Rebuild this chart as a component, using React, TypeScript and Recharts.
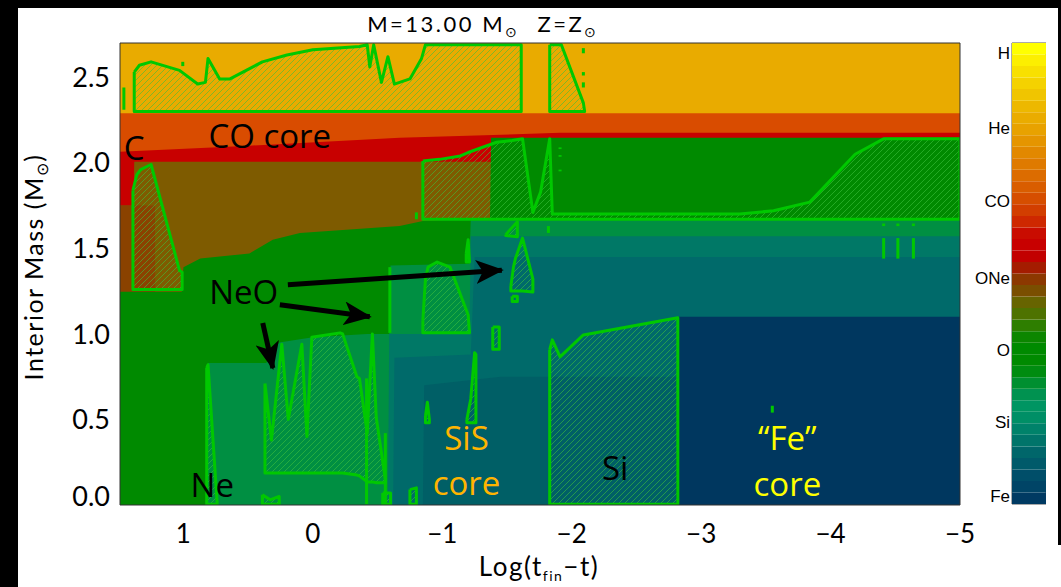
import React from 'react';
import {
  ComposedChart,
  Area,
  Line,
  XAxis,
  YAxis,
  ReferenceLine,
  ReferenceDot,
  BarChart,
  Bar,
  ReferenceArea,
} from 'recharts';

type Pt = { x: number; y: number };
type Span = { x: number; r: [number, number] };
type Mark = { x: number; y0: number; y1: number };

const X_DOMAIN: [number, number] = [-5, 1.49];
const Y_DOMAIN: [number, number] = [0, 2.7];

// upper edge of every abundance region, painted from the surface inwards
const hEnvelopeTop: Pt[] = [{ x: 1.49, y: 2.7 }, { x: -5, y: 2.7 }];
const heShellTop: Pt[] = [{ x: 1.49, y: 2.29 }, { x: -5, y: 2.29 }];
const coCoreTop: Pt[] = [
  { x: 1.49, y: 2.064 }, { x: 0.49, y: 2.1 }, { x: -0.67, y: 2.146 },
  { x: -1.91, y: 2.175 }, { x: -5, y: 2.175 },
];
const cBurnTop: Pt[] = [
  { x: 1.49, y: 1.75 }, { x: 1.385, y: 1.75 }, { x: 1.38, y: 2.006 }, { x: -5, y: 2.006 },
];
const cAshTop: Pt[] = [
  { x: 1.49, y: 1.75 }, { x: 1.22, y: 1.75 }, { x: 1.215, y: 0 }, { x: -5, y: 0 },
];
const oNeTop: Pt[] = [
  { x: 1.49, y: 1.246 }, { x: 1.013, y: 1.246 }, { x: 1.0, y: 1.39 }, { x: 0.87, y: 1.44 },
  { x: 0.49, y: 1.47 }, { x: 0.31, y: 1.55 }, { x: 0.1, y: 1.59 }, { x: -0.67, y: 1.63 },
  { x: -0.85, y: 1.66 }, { x: -1.369, y: 1.678 }, { x: -1.377, y: 2.146 }, { x: -5, y: 2.146 },
];
const oTop: Pt[] = [
  { x: 1.49, y: 0 }, { x: 0.815, y: 0 }, { x: 0.81, y: 0.83 }, { x: 0.36, y: 0.83 },
  { x: 0.26, y: 0.95 }, { x: 0, y: 0.98 }, { x: -0.42, y: 1.0 }, { x: -0.59, y: 1.0 },
  { x: -0.6, y: 1.4 }, { x: -1.21, y: 1.41 }, { x: -1.22, y: 1.67 }, { x: -5, y: 1.67 },
];
const oSiTop: Pt[] = [
  { x: 1.49, y: 0 }, { x: -0.58, y: 0 }, { x: -0.59, y: 1.0 }, { x: -1.21, y: 1.0 },
  { x: -1.22, y: 1.57 }, { x: -5, y: 1.57 },
];
const siTop: Pt[] = [
  { x: 1.49, y: 0 }, { x: -0.62, y: 0 }, { x: -0.63, y: 0.86 }, { x: -1.22, y: 0.88 },
  { x: -1.25, y: 1.45 }, { x: -5, y: 1.45 },
];
const siSTop: Pt[] = [
  { x: 1.49, y: 0 }, { x: -0.85, y: 0 }, { x: -0.86, y: 0.7 }, { x: -1.45, y: 0.75 }, { x: -5, y: 0.75 },
];
const feTop: Pt[] = [
  { x: 1.49, y: 0 }, { x: -2.81, y: 0 }, { x: -2.82, y: 1.1 }, { x: -5, y: 1.1 },
];

const layers = [
  { name: 'H', color: '#E9AB00', top: hEnvelopeTop },
  { name: 'He', color: '#D94C00', top: heShellTop },
  { name: 'CO', color: '#C80000', top: coCoreTop },
  { name: 'C', color: '#7E5B00', top: cBurnTop },
  { name: 'Cash', color: '#8A4200', top: cAshTop },
  { name: 'ONe', color: '#008A00', top: oNeTop },
  { name: 'O', color: '#008F42', top: oTop },
  { name: 'OSi', color: '#007866', top: oSiTop },
  { name: 'Si', color: '#006A6A', top: siTop },
  { name: 'SiS', color: '#005F66', top: siSTop },
  { name: 'Fe', color: '#00375F', top: feTop },
];

// convective regions: [bottom, top] of the mixed zone at each time
const envelopeZone: Span[] = [
  { x: 1.38, r: [2.3, 2.53] }, { x: 1.34, r: [2.3, 2.57] }, { x: 1.25, r: [2.3, 2.59] },
  { x: 1.03, r: [2.3, 2.54] }, { x: 0.89, r: [2.3, 2.46] }, { x: 0.83, r: [2.3, 2.47] },
  { x: 0.81, r: [2.3, 2.61] }, { x: 0.72, r: [2.3, 2.49] }, { x: 0.64, r: [2.3, 2.49] },
  { x: 0.39, r: [2.3, 2.59] }, { x: 0.2, r: [2.3, 2.63] }, { x: 0, r: [2.3, 2.66] },
  { x: -0.36, r: [2.3, 2.68] }, { x: -0.42, r: [2.3, 2.69] }, { x: -0.44, r: [2.3, 2.56] },
  { x: -0.47, r: [2.3, 2.69] }, { x: -0.53, r: [2.3, 2.47] }, { x: -0.58, r: [2.3, 2.62] },
  { x: -0.63, r: [2.3, 2.46] }, { x: -0.75, r: [2.3, 2.49] }, { x: -0.84, r: [2.3, 2.61] },
  { x: -0.87, r: [2.3, 2.69] }, { x: -1.61, r: [2.3, 2.69] },
];
const envelopeZone2: Span[] = [
  { x: -1.83, r: [2.3, 2.69] }, { x: -1.92, r: [2.3, 2.69] }, { x: -2.09, r: [2.3, 2.35] },
  { x: -2.1, r: [2.3, 2.3] },
];
const carbonZone: Span[] = [
  { x: 1.39, r: [1.26, 1.84] }, { x: 1.36, r: [1.26, 1.93] }, { x: 1.33, r: [1.26, 1.96] },
  { x: 1.25, r: [1.26, 1.99] }, { x: 1.03, r: [1.26, 1.37] }, { x: 1.01, r: [1.26, 1.36] },
];
const shellZone: Span[] = [
  { x: -0.85, r: [1.67, 2.01] }, { x: -0.98, r: [1.67, 2.02] }, { x: -1.14, r: [1.67, 2.04] },
  { x: -1.2, r: [1.67, 2.06] }, { x: -1.42, r: [1.67, 2.12] }, { x: -1.54, r: [1.67, 2.13] },
  { x: -1.62, r: [1.67, 2.14] }, { x: -1.7, r: [1.67, 1.71] }, { x: -1.76, r: [1.67, 1.83] },
  { x: -1.83, r: [1.67, 2.14] }, { x: -1.85, r: [1.67, 1.7] }, { x: -3.3, r: [1.67, 1.7] },
  { x: -3.56, r: [1.67, 1.72] }, { x: -3.84, r: [1.67, 1.77] }, { x: -4.19, r: [1.67, 2.05] },
  { x: -4.41, r: [1.67, 2.14] }, { x: -5, r: [1.67, 2.14] },
];
const neShellA: Span[] = [{ x: -1.49, r: [1.575, 1.58] }, { x: -1.58, r: [1.567, 1.655] }];
const neShellB: Span[] = [
  { x: -1.53, r: [1.25, 1.28] }, { x: -1.55, r: [1.25, 1.39] }, { x: -1.565, r: [1.25, 1.44] },
  { x: -1.62, r: [1.25, 1.56] }, { x: -1.7, r: [1.245, 1.32] },
];
const neShellC: Span[] = [{ x: -1.54, r: [1.19, 1.22] }, { x: -1.58, r: [1.19, 1.22] }];
const neoShell: Span[] = [
  { x: -0.85, r: [1.006, 1.08] }, { x: -0.87, r: [1.006, 1.32] }, { x: -0.89, r: [1.006, 1.39] },
  { x: -0.96, r: [1.006, 1.42] }, { x: -1.06, r: [1.006, 1.39] }, { x: -1.2, r: [1.006, 1.11] },
  { x: -1.21, r: [1.006, 1.01] },
];
const neoCore: Span[] = [
  { x: 0.37, r: [0.187, 0.71] }, { x: 0.32, r: [0.187, 0.38] }, { x: 0.24, r: [0.187, 0.94] },
  { x: 0.19, r: [0.187, 0.5] }, { x: 0.085, r: [0.187, 0.94] }, { x: 0.046, r: [0.187, 0.4] },
  { x: 0.008, r: [0.187, 0.98] }, { x: -0.21, r: [0.187, 1.006] }, { x: -0.23, r: [0.187, 1.0] },
  { x: -0.34, r: [0.175, 0.75] }, { x: -0.36, r: [0.17, 0.74] }, { x: -0.42, r: [0.135, 0.42] },
  { x: -0.46, r: [0.135, 1.0] }, { x: -0.49, r: [0.13, 0.51] }, { x: -0.56, r: [0.13, 0.15] },
];
const neCore: Span[] = [
  { x: 0.82, r: [0.005, 0.8] }, { x: 0.81, r: [0.005, 0.82] }, { x: 0.74, r: [0.005, 0.02] },
];
const siSShellA: Span[] = [
  { x: -1.19, r: [0.48, 0.5] }, { x: -1.22, r: [0.48, 0.62] }, { x: -1.25, r: [0.48, 0.89] },
  { x: -1.26, r: [0.48, 0.88] },
];
const siSShellB: Span[] = [
  { x: -0.87, r: [0.48, 0.52] }, { x: -0.885, r: [0.48, 0.6] }, { x: -0.9, r: [0.48, 0.5] },
];
const siSShellC: Span[] = [{ x: -1.39, r: [0.91, 1.04] }, { x: -1.44, r: [0.91, 1.04] }];
const siSShellD: Span[] = [
  { x: -1.185, r: [1.42, 1.47] }, { x: -1.2, r: [1.42, 1.55] }, { x: -1.21, r: [1.42, 1.42] },
];
const coreBlipA: Span[] = [{ x: -0.54, r: [0.005, 0.07] }, { x: -0.6, r: [0.005, 0.07] }];
const coreBlipB: Span[] = [{ x: -0.75, r: [0.005, 0.09] }, { x: -0.8, r: [0.005, 0.1] }];
const coreBlipC: Span[] = [
  { x: 0.39, r: [0.005, 0.06] }, { x: 0.33, r: [0.005, 0.03] }, { x: 0.26, r: [0.005, 0.05] },
];
const siCore: Span[] = [
  { x: -1.83, r: [0.005, 0.906] }, { x: -1.85, r: [0.005, 0.965] }, { x: -1.91, r: [0.005, 0.866] },
  { x: -2.09, r: [0.005, 0.994] }, { x: -2.82, r: [0.005, 1.094] },
];

const convectiveZones: Span[][] = [
  envelopeZone, envelopeZone2, carbonZone, shellZone, neShellA, neShellB, neShellC, neoShell,
  neoCore, neCore, siSShellA, siSShellB, siSShellC, siSShellD, coreBlipA, coreBlipB, coreBlipC,
  siCore,
];

// short-lived mixing episodes drawn as single strokes
const mixingMarks: Mark[] = [
  { x: 1.46, y0: 2.31, y1: 2.44 }, { x: 1.005, y0: 2.565, y1: 2.59 },
  { x: -2.09, y0: 2.64, y1: 2.67 }, { x: -2.09, y0: 2.51, y1: 2.53 }, { x: -2.09, y0: 2.44, y1: 2.47 },
  { x: -1.91, y0: 2.08, y1: 2.09 }, { x: -1.91, y0: 2.035, y1: 2.045 }, { x: -1.91, y0: 1.95, y1: 1.96 },
  { x: -0.8, y0: 1.67, y1: 1.71 }, { x: -1.82, y0: 1.59, y1: 1.63 },
  { x: -4.41, y0: 1.44, y1: 1.56 }, { x: -4.52, y0: 1.44, y1: 1.56 }, { x: -4.64, y0: 1.44, y1: 1.56 },
  { x: -4.41, y0: 1.63, y1: 1.645 }, { x: -4.52, y0: 1.63, y1: 1.645 }, { x: -4.64, y0: 1.63, y1: 1.645 },
  { x: -3.55, y0: 0.54, y1: 0.58 }, { x: -0.415, y0: 0.005, y1: 0.74 },
  { x: -0.56, y0: 0.005, y1: 0.42 }, { x: -0.595, y0: 1.006, y1: 1.39 },
];

const arrows = [
  { from: { x: 0.193, y: 1.287 }, to: { x: -1.46, y: 1.372 } },
  { from: { x: 0.255, y: 1.17 }, to: { x: -0.44, y: 1.1 } },
  { from: { x: 0.387, y: 1.064 }, to: { x: 0.309, y: 0.8 } },
];

const notes = [
  { text: 'CO core', x: 0.333, y: 2.153, color: '#000' },
  { text: 'C', x: 1.38, y: 2.086, color: '#000' },
  { text: 'NeO', x: 0.534, y: 1.245, color: '#000' },
  { text: 'Ne', x: 0.777, y: 0.117, color: '#000' },
  { text: 'SiS', x: -1.187, y: 0.392, color: '#FFB400' },
  { text: 'core', x: -1.187, y: 0.129, color: '#FFB400' },
  { text: 'Si', x: -2.336, y: 0.216, color: '#000' },
  { text: '\u201CFe\u201D', x: -3.666, y: 0.39, color: '#FFFF00' },
  { text: 'core', x: -3.666, y: 0.12, color: '#FFFF00' },
];

const xLabelTicks = [1, 0, -1, -2, -3, -4, -5];
const yLabelTicks = [0, 0.5, 1, 1.5, 2, 2.5];
const xMinorTicks = Array.from({ length: 65 }, (_, i) => Math.round((-5 + i * 0.1) * 10) / 10);
const yMinorTicks = Array.from({ length: 28 }, (_, i) => Math.round(i) / 10);

// colour table of the abundance scale, from the top (H) down to Fe
const scaleColors = [
  '#FFFF00', '#FCEF00', '#F8E000', '#F4D200', '#F0C500', '#EDB800', '#EAAC00', '#E8A200',
  '#E59500', '#E28800', '#DF7A00', '#DC6C00', '#D95D00', '#D64E00', '#D23E00', '#CE2800',
  '#C90C00', '#C80000', '#C20000', '#A41C00', '#8C3800', '#7A4E00', '#676400', '#4E7200',
  '#2E7E00', '#0C8600', '#008A00', '#008A00', '#008C10', '#008F30', '#009250', '#009562',
  '#008F66', '#00826A', '#00746A', '#00666A', '#005A6A', '#004E69', '#004466', '#003A62',
];
const scaleNames = ['Fe', 'Si', 'O', 'ONe', 'CO', 'He', 'H'];
const scaleLevels = [0.69, 7.11, 13.36, 19.61, 26.29, 32.62, 39.13];

const ZONE_GREEN = '#00C800';
const AXIS_COLOR = '#333';
const FONT = 'Lato, sans-serif';

const zoneOutline = (z: Span[]): Pt[] => [
  ...z.map((d) => ({ x: d.x, y: d.r[1] })),
  ...z.slice().reverse().map((d) => ({ x: d.x, y: d.r[0] })),
  { x: z[0].x, y: z[0].r[1] },
];

const fmtX = (v: number) => (v < 0 ? `\u2212${-v}` : `${v}`);

const MassTick = ({ x, y, payload }: any) => (
  <text
    x={x}
    y={payload.value === 0 ? y - 9 : y}
    dy="0.36em"
    textAnchor="end"
    fontSize={27}
    fontFamily={FONT}
    fill="#000"
  >
    {Number(payload.value).toFixed(1)}
  </text>
);

const ColorScale = () => {
  const row: Record<string, number> = { name: 0 } as any;
  const bottomUp = scaleColors.slice().reverse();
  bottomUp.forEach((_, i) => (row[`b${i}`] = 1));
  return (
    <BarChart
      width={86}
      height={481}
      data={[row]}
      margin={{ top: 10, right: 0, bottom: 10, left: 0 }}
      barCategoryGap={0}
      barGap={0}
    >
      <XAxis dataKey="name" hide />
      <YAxis
        type="number"
        domain={[0, 40]}
        ticks={scaleLevels}
        tickFormatter={(v: number) => scaleNames[scaleLevels.indexOf(v)] ?? ''}
        width={52}
        tickLine={false}
        axisLine={false}
        tickSize={0}
        tickMargin={2}
        interval={0}
        tick={{ fontSize: 17, fill: '#000', fontFamily: 'Liberation Sans, Arial, sans-serif' }}
      />
      {bottomUp.map((c, i) => (
        <Bar key={c + i} dataKey={`b${i}`} stackId="s" fill={c} isAnimationActive={false} />
      ))}
      <ReferenceArea y1={0} y2={40} fill="none" stroke="#555" strokeWidth={1} ifOverflow="visible" />
    </BarChart>
  );
};

export default function App() {
  return (
    <div
      style={{
        position: 'fixed',
        left: 0,
        top: 0,
        width: 1061,
        height: 587,
        background: '#fff',
        overflow: 'hidden',
      }}
    >
      <div style={{ position: 'absolute', left: 0, top: 0 }}>
        <ComposedChart width={1061} height={587} margin={{ top: 43, right: 101, bottom: 42, left: 60 }}>
          <defs>
            <pattern id="hatch" patternUnits="userSpaceOnUse" width={6} height={6}>
              <path
                d="M-1,1 L1,-1 M0,6 L6,0 M5,7 L7,5"
                stroke="#3CC03C"
                strokeWidth={0.8}
                strokeOpacity={0.75}
              />
            </pattern>
            <marker
              id="arrowHead"
              markerUnits="userSpaceOnUse"
              markerWidth={28}
              markerHeight={24}
              refX={26}
              refY={12}
              orient="auto"
            >
              <path d="M0,0 L28,12 L0,24 L7,12 Z" fill="#000" />
            </marker>
          </defs>

          {layers.map((l) => (
            <Area
              key={l.name}
              data={l.top}
              dataKey="y"
              type="linear"
              fill={l.color}
              fillOpacity={1}
              stroke="none"
              isAnimationActive={false}
            />
          ))}

          {convectiveZones.map((z, i) => (
            <Area
              key={`zone${i}`}
              data={z}
              dataKey="r"
              type="linear"
              fill="url(#hatch)"
              fillOpacity={1}
              stroke="none"
              isAnimationActive={false}
            />
          ))}

          {convectiveZones.map((z, i) => (
            <Line
              key={`edge${i}`}
              data={zoneOutline(z)}
              dataKey="y"
              type="linear"
              stroke={ZONE_GREEN}
              strokeWidth={3}
              strokeLinejoin="round"
              dot={false}
              activeDot={false}
              isAnimationActive={false}
            />
          ))}

          {mixingMarks.map((m, i) => (
            <Line
              key={`mark${i}`}
              data={[{ x: m.x, y: m.y0 }, { x: m.x, y: m.y1 }]}
              dataKey="y"
              type="linear"
              stroke={ZONE_GREEN}
              strokeWidth={3}
              dot={false}
              activeDot={false}
              isAnimationActive={false}
            />
          ))}

          {arrows.map((a, i) => (
            <ReferenceLine
              key={`arrow${i}`}
              segment={[a.from, a.to]}
              stroke="#000"
              strokeWidth={5}
              markerEnd="url(#arrowHead)"
              ifOverflow="visible"
            />
          ))}

          {notes.map((n, i) => (
            <ReferenceDot
              key={`note${i}`}
              x={n.x}
              y={n.y}
              r={0}
              fill="none"
              stroke="none"
              ifOverflow="visible"
              label={{
                value: n.text,
                position: 'center',
                fill: n.color,
                fontSize: 33,
                fontFamily: 'Open Sans, sans-serif',
              }}
            />
          ))}

          <XAxis
            dataKey="x"
            type="number"
            domain={X_DOMAIN}
            allowDataOverflow
            reversed
            ticks={xLabelTicks}
            tickFormatter={fmtX}
            height={40}
            tickLine={false}
            tickSize={0}
            tickMargin={20}
            axisLine={{ stroke: AXIS_COLOR }}
            tick={{ fontSize: 26, fill: '#000', fontFamily: FONT }}
            interval={0}
          />
          <XAxis xAxisId="bMaj" dataKey="x" type="number" domain={X_DOMAIN} allowDataOverflow reversed
            ticks={xLabelTicks} mirror height={1} tickSize={9} tick={false} axisLine={false}
            tickLine={{ stroke: AXIS_COLOR }} interval={0} />
          <XAxis xAxisId="bMin" dataKey="x" type="number" domain={X_DOMAIN} allowDataOverflow reversed
            ticks={xMinorTicks} mirror height={1} tickSize={4.5} tick={false} axisLine={false}
            tickLine={{ stroke: AXIS_COLOR }} interval={0} />
          <XAxis xAxisId="tMaj" orientation="top" dataKey="x" type="number" domain={X_DOMAIN}
            allowDataOverflow reversed ticks={xLabelTicks} mirror height={1} tickSize={9} tick={false}
            axisLine={{ stroke: AXIS_COLOR }} tickLine={{ stroke: AXIS_COLOR }} interval={0} />
          <XAxis xAxisId="tMin" orientation="top" dataKey="x" type="number" domain={X_DOMAIN}
            allowDataOverflow reversed ticks={xMinorTicks} mirror height={1} tickSize={4.5} tick={false}
            axisLine={false} tickLine={{ stroke: AXIS_COLOR }} interval={0} />

          <YAxis
            type="number"
            domain={Y_DOMAIN}
            allowDataOverflow
            ticks={yLabelTicks}
            width={60}
            tickLine={false}
            tickSize={0}
            tickMargin={10}
            axisLine={{ stroke: AXIS_COLOR }}
            tick={<MassTick />}
            interval={0}
          />
          <YAxis yAxisId="lMaj" type="number" domain={Y_DOMAIN} allowDataOverflow ticks={yLabelTicks}
            mirror width={1} tickSize={17} tick={false} axisLine={false}
            tickLine={{ stroke: AXIS_COLOR }} interval={0} />
          <YAxis yAxisId="lMin" type="number" domain={Y_DOMAIN} allowDataOverflow ticks={yMinorTicks}
            mirror width={1} tickSize={8} tick={false} axisLine={false}
            tickLine={{ stroke: AXIS_COLOR }} interval={0} />
          <YAxis yAxisId="rMaj" orientation="right" type="number" domain={Y_DOMAIN} allowDataOverflow
            ticks={yLabelTicks} mirror width={1} tickSize={17} tick={false}
            axisLine={{ stroke: AXIS_COLOR }} tickLine={{ stroke: AXIS_COLOR }} interval={0} />
          <YAxis yAxisId="rMin" orientation="right" type="number" domain={Y_DOMAIN} allowDataOverflow
            ticks={yMinorTicks} mirror width={1} tickSize={8} tick={false} axisLine={false}
            tickLine={{ stroke: AXIS_COLOR }} interval={0} />
        </ComposedChart>
      </div>

      <div style={{ position: 'absolute', left: 960, top: 33 }}>
        <ColorScale />
      </div>

      <svg
        width={1061}
        height={587}
        style={{ position: 'absolute', left: 0, top: 0, pointerEvents: 'none' }}
      >
        <text x={483} y={32} textAnchor="middle" fontSize={22} fontFamily={FONT} letterSpacing={2.5} fill="#000">
          M=13.00 M<tspan dy={5} fontSize={14}>{'\u2299'}</tspan>
          <tspan dx={18} dy={-5}>Z=Z</tspan>
          <tspan dy={5} fontSize={14}>{'\u2299'}</tspan>
        </text>
        <text
          transform="translate(43,267) rotate(-90)"
          textAnchor="middle"
          fontSize={25}
          fontFamily={FONT}
          letterSpacing={1.5}
          fill="#000"
        >
          Interior Mass (M<tspan dy={5} fontSize={16}>{'\u2299'}</tspan>
          <tspan dy={-5}>)</tspan>
        </text>
        <text x={539} y={576} textAnchor="middle" fontSize={26} fontFamily={FONT} letterSpacing={1.5} fill="#000">
          Log(t<tspan dy={5} fontSize={14}>fin</tspan>
          <tspan dy={-5}>{'\u2212t)'}</tspan>
        </text>
      </svg>

      <div style={{ position: 'absolute', left: 0, top: 0, width: 1061, height: 8, background: '#000' }} />
      <div style={{ position: 'absolute', left: 0, top: 0, width: 18, height: 587, background: '#000' }} />
      <div style={{ position: 'absolute', left: 1058, top: 0, width: 3, height: 545, background: '#000' }} />
    </div>
  );
}
